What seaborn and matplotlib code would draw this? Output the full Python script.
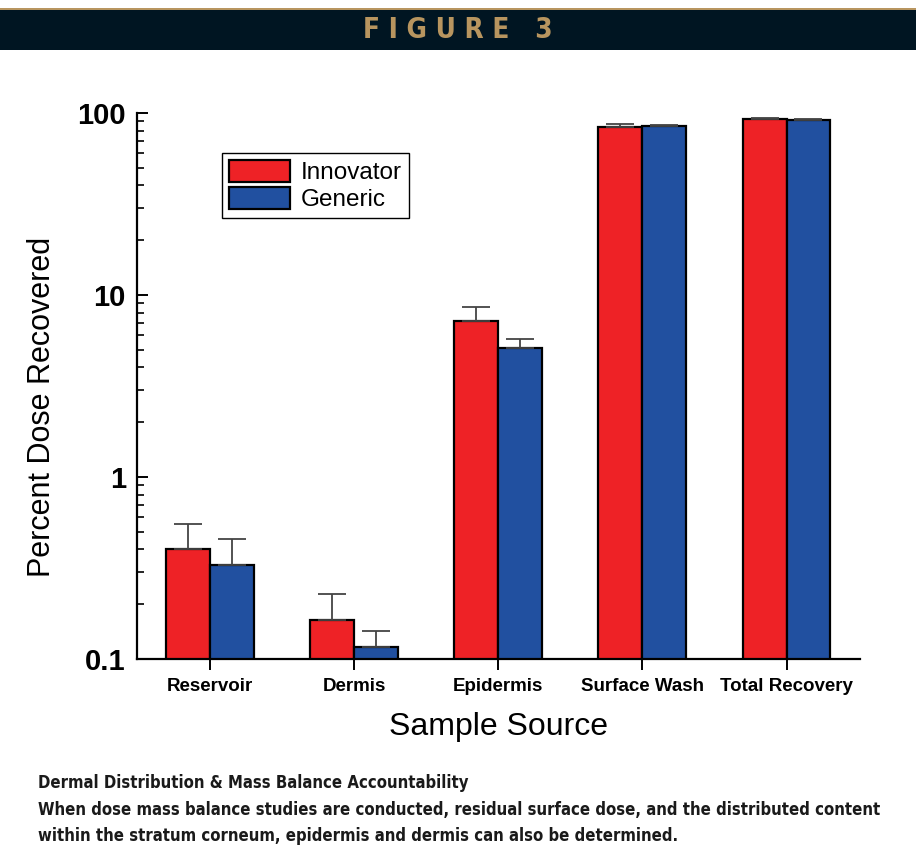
import numpy as np
import pandas as pd
import matplotlib
matplotlib.use("Agg")
import matplotlib.pyplot as plt
from matplotlib.patches import Rectangle
import seaborn as sns

# ------------------------------------------------------------
# Data
# ------------------------------------------------------------
categories = ["Reservoir", "Dermis", "Epidermis", "Surface Wash", "Total Recovery"]
innovator_mean = [0.40, 0.164, 7.2, 83.5, 92.5]
innovator_err = [0.15, 0.064, 1.4, 3.0, 1.5]
generic_mean = [0.328, 0.116, 5.1, 85.0, 91.5]
generic_err = [0.128, 0.027, 0.6, 1.2, 1.2]
groups = ["Innovator", "Generic"]
colors = ["#ee2226", "#2150a0"]

caption_title = "Dermal Distribution & Mass Balance Accountability"
caption_body = ("When dose mass balance studies are conducted, residual surface dose, and the distributed content\n"
                "within the stratum corneum, epidermis and dermis can also be determined.")

df = pd.DataFrame({
    "source": categories * 2,
    "group": [groups[0]] * len(categories) + [groups[1]] * len(categories),
    "value": innovator_mean + generic_mean,
})
errors = [innovator_err, generic_err]

# ------------------------------------------------------------
# Figure
# ------------------------------------------------------------
sns.set_style("white")
plt.rcParams["font.family"] = ["Liberation Sans", "DejaVu Sans"]
plt.rcParams["text.color"] = "black"
plt.rcParams["axes.labelcolor"] = "black"
plt.rcParams["xtick.color"] = "black"
plt.rcParams["ytick.color"] = "black"

fig = plt.figure(figsize=(9.16, 8.55), dpi=100)

# header band
fig.add_artist(Rectangle((0, 1 - 50 / 855), 1, 40 / 855, transform=fig.transFigure,
                         facecolor="#001522", edgecolor="none"))
fig.add_artist(Rectangle((0, 1 - 10 / 855), 1, 1.5 / 855, transform=fig.transFigure,
                         facecolor="#b8955f", edgecolor="none"))
fig.text(0.5, 1 - 30 / 855, "F I G U R E   3", ha="center", va="center",
         color="#b8955f", fontsize=20, fontweight="bold", fontstretch="condensed",
         family="DejaVu Sans")

ax = fig.add_axes([137 / 916, 1 - 659 / 855, (860 - 137) / 916, (659 - 113) / 855])

sns.barplot(data=df, x="source", y="value", hue="group", palette=colors,
            order=categories, hue_order=groups, errorbar=None, width=0.61,
            edgecolor="black", linewidth=1.6, saturation=1, ax=ax, log_scale=(False, True))

# upward-only error bars on each bar
for container, err in zip(ax.containers, errors):
    xs = [bar.get_x() + bar.get_width() / 2 for bar in container]
    tops = [bar.get_height() for bar in container]
    ax.errorbar(xs, tops, yerr=[np.zeros(len(err)), err], fmt="none",
                ecolor="#444444", elinewidth=1.3, capsize=10, capthick=1.3, zorder=1)

ax.set_yscale("log")
ax.set_ylim(0.1, 100)
ax.set_xlim(-0.507, 4.51)
ax.set_yticks([0.1, 1, 10, 100])
ax.set_yticklabels(["0.1", "1", "10", "100"])

for side in ["top", "right"]:
    ax.spines[side].set_visible(False)
for side in ["left", "bottom"]:
    ax.spines[side].set_linewidth(1.6)
    ax.spines[side].set_color("black")

ax.tick_params(axis="y", which="major", direction="in", length=8, width=1.4,
               labelsize=21, left=True, pad=8)
ax.tick_params(axis="y", which="minor", direction="in", length=5, width=1.2, left=True)
ax.tick_params(axis="x", which="major", direction="out", length=8, width=1.4,
               labelsize=13.5, bottom=True, pad=6)
for lbl in ax.get_yticklabels() + ax.get_xticklabels():
    lbl.set_fontweight("bold")

ax.set_xlabel("Sample Source", fontsize=23, labelpad=12)
ax.set_ylabel("Percent Dose Recovered", fontsize=22)
ax.yaxis.set_label_coords(-0.11, 0.4615)

leg = ax.legend(loc="upper left", bbox_to_anchor=(0.1176, 0.927), fontsize=17.5,
                frameon=True, fancybox=False, edgecolor="black", framealpha=1,
                handlelength=2.5, handleheight=1.0, borderpad=0.3, labelspacing=0.1,
                handletextpad=0.45, borderaxespad=0)
leg.get_frame().set_linewidth(1.0)

# caption
cap_font = dict(ha="left", va="center", fontsize=12.0, fontweight="bold", color="#1a1a1a",
                fontstretch="condensed", family="DejaVu Sans")
fig.text(38 / 916, 1 - 783 / 855, caption_title, **cap_font)
fig.text(38 / 916, 1 - 823 / 855, caption_body, linespacing=1.6, **cap_font)

fig.savefig("out.png", dpi=100)
